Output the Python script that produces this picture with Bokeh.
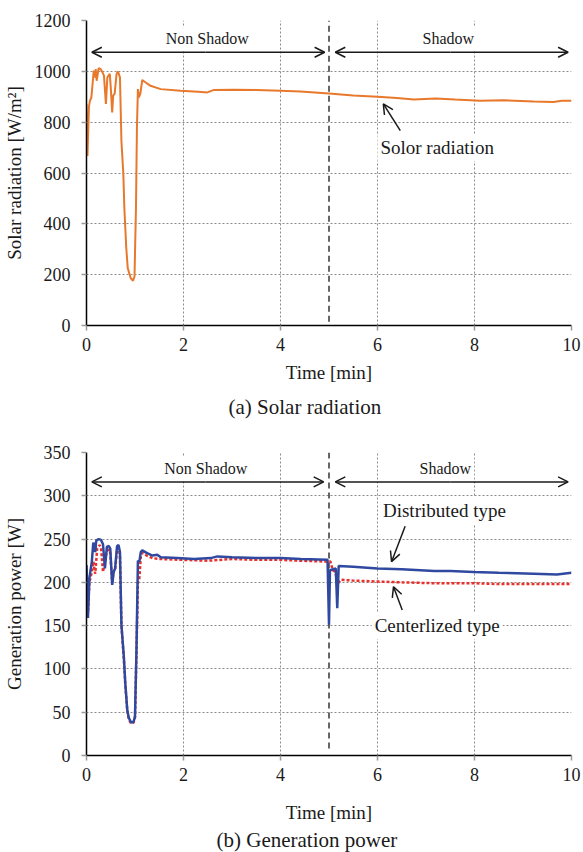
from bokeh.plotting import figure
from bokeh.layouts import column
from bokeh.models import Range1d, Arrow, OpenHead, Label, Title
from bokeh.embed import file_html
from bokeh.resources import INLINE

# ---- measured series -------------------------------------------------------
# (a) solar radiation [W/m2] vs time [min]
rad_t = [0.00, 0.02, 0.05, 0.07, 0.10, 0.15, 0.18, 0.19, 0.21, 0.25, 0.29, 0.33,
         0.36, 0.40, 0.43, 0.48, 0.50, 0.53, 0.55, 0.58, 0.62, 0.65, 0.69, 0.72,
         0.76, 0.78, 0.82, 0.85, 0.91, 0.96, 0.99, 1.02, 1.04, 1.06, 1.08, 1.11,
         1.15, 1.22, 1.32, 1.53, 1.94, 2.30, 2.49, 2.63, 3.04, 3.50, 4.00, 4.41,
         5.00, 5.50, 6.00, 6.40, 6.75, 7.20, 7.60, 8.12, 8.60, 9.22, 9.63, 9.80,
         10.0]
rad_v = [872, 667, 860, 884, 897, 1003, 976, 1009, 963, 1013, 1009, 996,
         983, 872, 976, 990, 937, 838, 904, 911, 990, 999, 976, 726,
         595, 463, 305, 226, 187, 176, 193, 463, 779, 930, 897, 912,
         966, 956, 943, 930, 924, 920, 917, 927, 928, 927, 924, 921,
         913, 905, 900, 895, 889, 893, 889, 884, 886, 881, 879, 884,
         884]

# (b) generation power [W], distributed type
dist_t = [0.00, 0.03, 0.06, 0.11, 0.14, 0.18, 0.20, 0.25, 0.30, 0.34, 0.38, 0.42,
          0.46, 0.49, 0.53, 0.56, 0.59, 0.63, 0.66, 0.69, 0.72, 0.77, 0.80, 0.84,
          0.87, 0.92, 0.97, 1.00, 1.03, 1.06, 1.09, 1.12, 1.15, 1.24, 1.36, 1.46,
          1.53, 1.87, 2.22, 2.56, 2.70, 3.00, 3.50, 4.00, 4.42, 4.97, 5.00, 5.02,
          5.14, 5.17, 5.20, 5.50, 6.00, 6.50, 7.17, 7.50, 7.98, 8.50, 9.22, 9.70,
          10.0]
dist_v = [220, 159, 205, 224, 246, 235, 248, 250, 249, 244, 216, 241,
          242, 239, 197, 212, 216, 242, 243, 235, 151, 114, 83, 53,
          44, 38, 39, 45, 121, 225, 224, 235, 237, 234, 231, 232,
          229, 228, 227, 228, 230, 229, 228, 228, 227, 226, 151, 214,
          216, 170, 219, 218, 216, 215, 213, 213, 212, 211, 210, 209,
          211]

# (b) generation power [W], centralized type
cent_t = [0.00, 0.03, 0.06, 0.11, 0.14, 0.18, 0.22, 0.27, 0.30, 0.34, 0.38, 0.42,
          0.46, 0.49, 0.53, 0.56, 0.59, 0.63, 0.66, 0.69, 0.72, 0.77, 0.80, 0.84,
          0.87, 0.92, 0.97, 1.00, 1.03, 1.06, 1.09, 1.12, 1.15, 1.24, 1.36, 1.50,
          2.00, 2.50, 3.00, 3.50, 4.00, 4.42, 4.97, 5.03, 5.08, 5.13, 5.18, 5.25,
          5.50, 6.00, 6.50, 7.17, 8.00, 8.50, 9.22, 10.0]
cent_v = [215, 165, 200, 212, 224, 210, 239, 243, 240, 212, 225, 236,
          238, 234, 200, 213, 215, 238, 240, 232, 150, 112, 82, 52,
          42, 37, 38, 44, 118, 200, 205, 230, 234, 231, 228, 227,
          226, 225, 227, 226, 226, 225, 224, 224, 214, 212, 199, 203,
          202, 201, 200, 199, 199, 198, 198, 198]

x_ticks = [0, 2, 4, 6, 8, 10]
rad_ticks = [0, 200, 400, 600, 800, 1000, 1200]
pow_ticks = [0, 50, 100, 150, 200, 250, 300, 350]
shadow_start = 5.0

FONT = "Liberation Serif"
GRID = "#8a8a8a"
INK = "#1a1a1a"


def make_fig(height, top, bottom, ymax, yticks, ylabel, label_standoff, x_label_standoff):
    p = figure(width=583, height=height, output_backend="svg", toolbar_location=None,
               x_range=Range1d(0, 10), y_range=Range1d(0, ymax),
               min_border_left=85, min_border_right=12,
               min_border_top=top, min_border_bottom=bottom)
    p.outline_line_color = None
    p.background_fill_color = "white"
    p.border_fill_color = "white"
    p.xaxis.ticker = x_ticks
    p.yaxis.ticker = yticks
    p.xgrid.ticker = x_ticks
    p.ygrid.ticker = yticks
    for g in (p.xgrid, p.ygrid):
        g.grid_line_color = GRID
        g.grid_line_dash = "2 2"
        g.grid_line_width = 1
    for ax in (p.xaxis, p.yaxis):
        ax.axis_line_color = "black"
        ax.axis_line_width = 1.5
        ax.major_tick_in = 0
        ax.major_tick_out = 5
        ax.major_tick_line_color = "#9a9a9a"
        ax.major_tick_line_width = 1.5
        ax.minor_tick_line_color = None
        ax.major_label_text_font = FONT
        ax.major_label_text_font_size = "18px"
        ax.major_label_text_color = INK
        ax.axis_label_text_font = FONT
        ax.axis_label_text_font_size = "19px"
        ax.axis_label_text_font_style = "normal"
        ax.axis_label_text_color = INK
    p.xaxis.axis_label = "Time [min]"
    p.xaxis.major_label_standoff = 7
    p.xaxis.axis_label_standoff = x_label_standoff
    p.yaxis.axis_label = ylabel
    p.yaxis.major_label_standoff = 11
    p.yaxis.axis_label_standoff = label_standoff
    return p


def text(p, x, y, s, size, bg=True):
    p.add_layout(Label(x=x, y=y, text=s, text_font=FONT, text_font_size=size,
                       text_align="center", text_baseline="middle",
                       text_color=INK,
                       background_fill_color="white" if bg else None,
                       padding=3))


def arrow(p, x0, y0, x1, y1):
    head = dict(size=10, line_width=1.5, line_color=INK)
    p.add_layout(Arrow(start=None, end=OpenHead(**head),
                       x_start=x0, y_start=y0, x_end=x1, y_end=y1,
                       line_width=1.5, line_color=INK))


def caption(p, s, offset, standoff):
    p.add_layout(Title(text=s, align="left", offset=offset, standoff=standoff,
                       text_font=FONT, text_font_size="21px",
                       text_font_style="normal", text_color=INK), "below")


# ---- (a) solar radiation ----------------------------------------------------
p1 = make_fig(430, 20, 105, 1200, rad_ticks, "Solar radiation [W/m\u00b2]", 7, 8)
p1.segment(x0=[shadow_start], y0=[15], x1=[shadow_start], y1=[1200],
           line_color="#333333", line_width=1.5, line_dash="6 4")
p1.line(rad_t, rad_v, line_color="#E8782C", line_width=2)
arrow(p1, 2.45, 1075, 0.11, 1075)
arrow(p1, 2.45, 1075, 4.91, 1075)
arrow(p1, 7.5, 1075, 5.13, 1075)
arrow(p1, 7.5, 1075, 9.93, 1075)
text(p1, 2.49, 1128, "Non Shadow", "16px")
text(p1, 7.46, 1128, "Shadow", "16px")
arrow(p1, 6.47, 767, 6.12, 872)
text(p1, 7.23, 700, "Solor radiation", "19px")
caption(p1, "(a) Solar radiation", 142, 14)

# ---- (b) generation power ---------------------------------------------------
p2 = make_fig(422, 22, 92, 350, pow_ticks, "Generation power [W]", 16, 18)
p2.segment(x0=[shadow_start], y0=[8], x1=[shadow_start], y1=[350],
           line_color="#333333", line_width=1.5, line_dash="6 4")
p2.line(cent_t, cent_v, line_color="#E8302C", line_width=2.5, line_dash="3 2")
p2.line(dist_t, dist_v, line_color="#3049A0", line_width=2.5)
arrow(p2, 2.45, 316, 0.11, 316)
arrow(p2, 2.45, 316, 4.89, 316)
arrow(p2, 7.5, 316, 5.13, 316)
arrow(p2, 7.5, 316, 9.93, 316)
text(p2, 2.46, 331.5, "Non Shadow", "16px")
text(p2, 7.40, 331.5, "Shadow", "16px")
arrow(p2, 6.57, 264.8, 6.29, 223.9)
text(p2, 7.38, 283, "Distributed type", "19px")
arrow(p2, 6.51, 168, 6.33, 195)
text(p2, 7.23, 150, "Centerlized type", "19px")
caption(p2, "(b) Generation power", 130, 1)

layout = column(p1, p2)
open("out.html", "w").write(file_html(layout, INLINE))
